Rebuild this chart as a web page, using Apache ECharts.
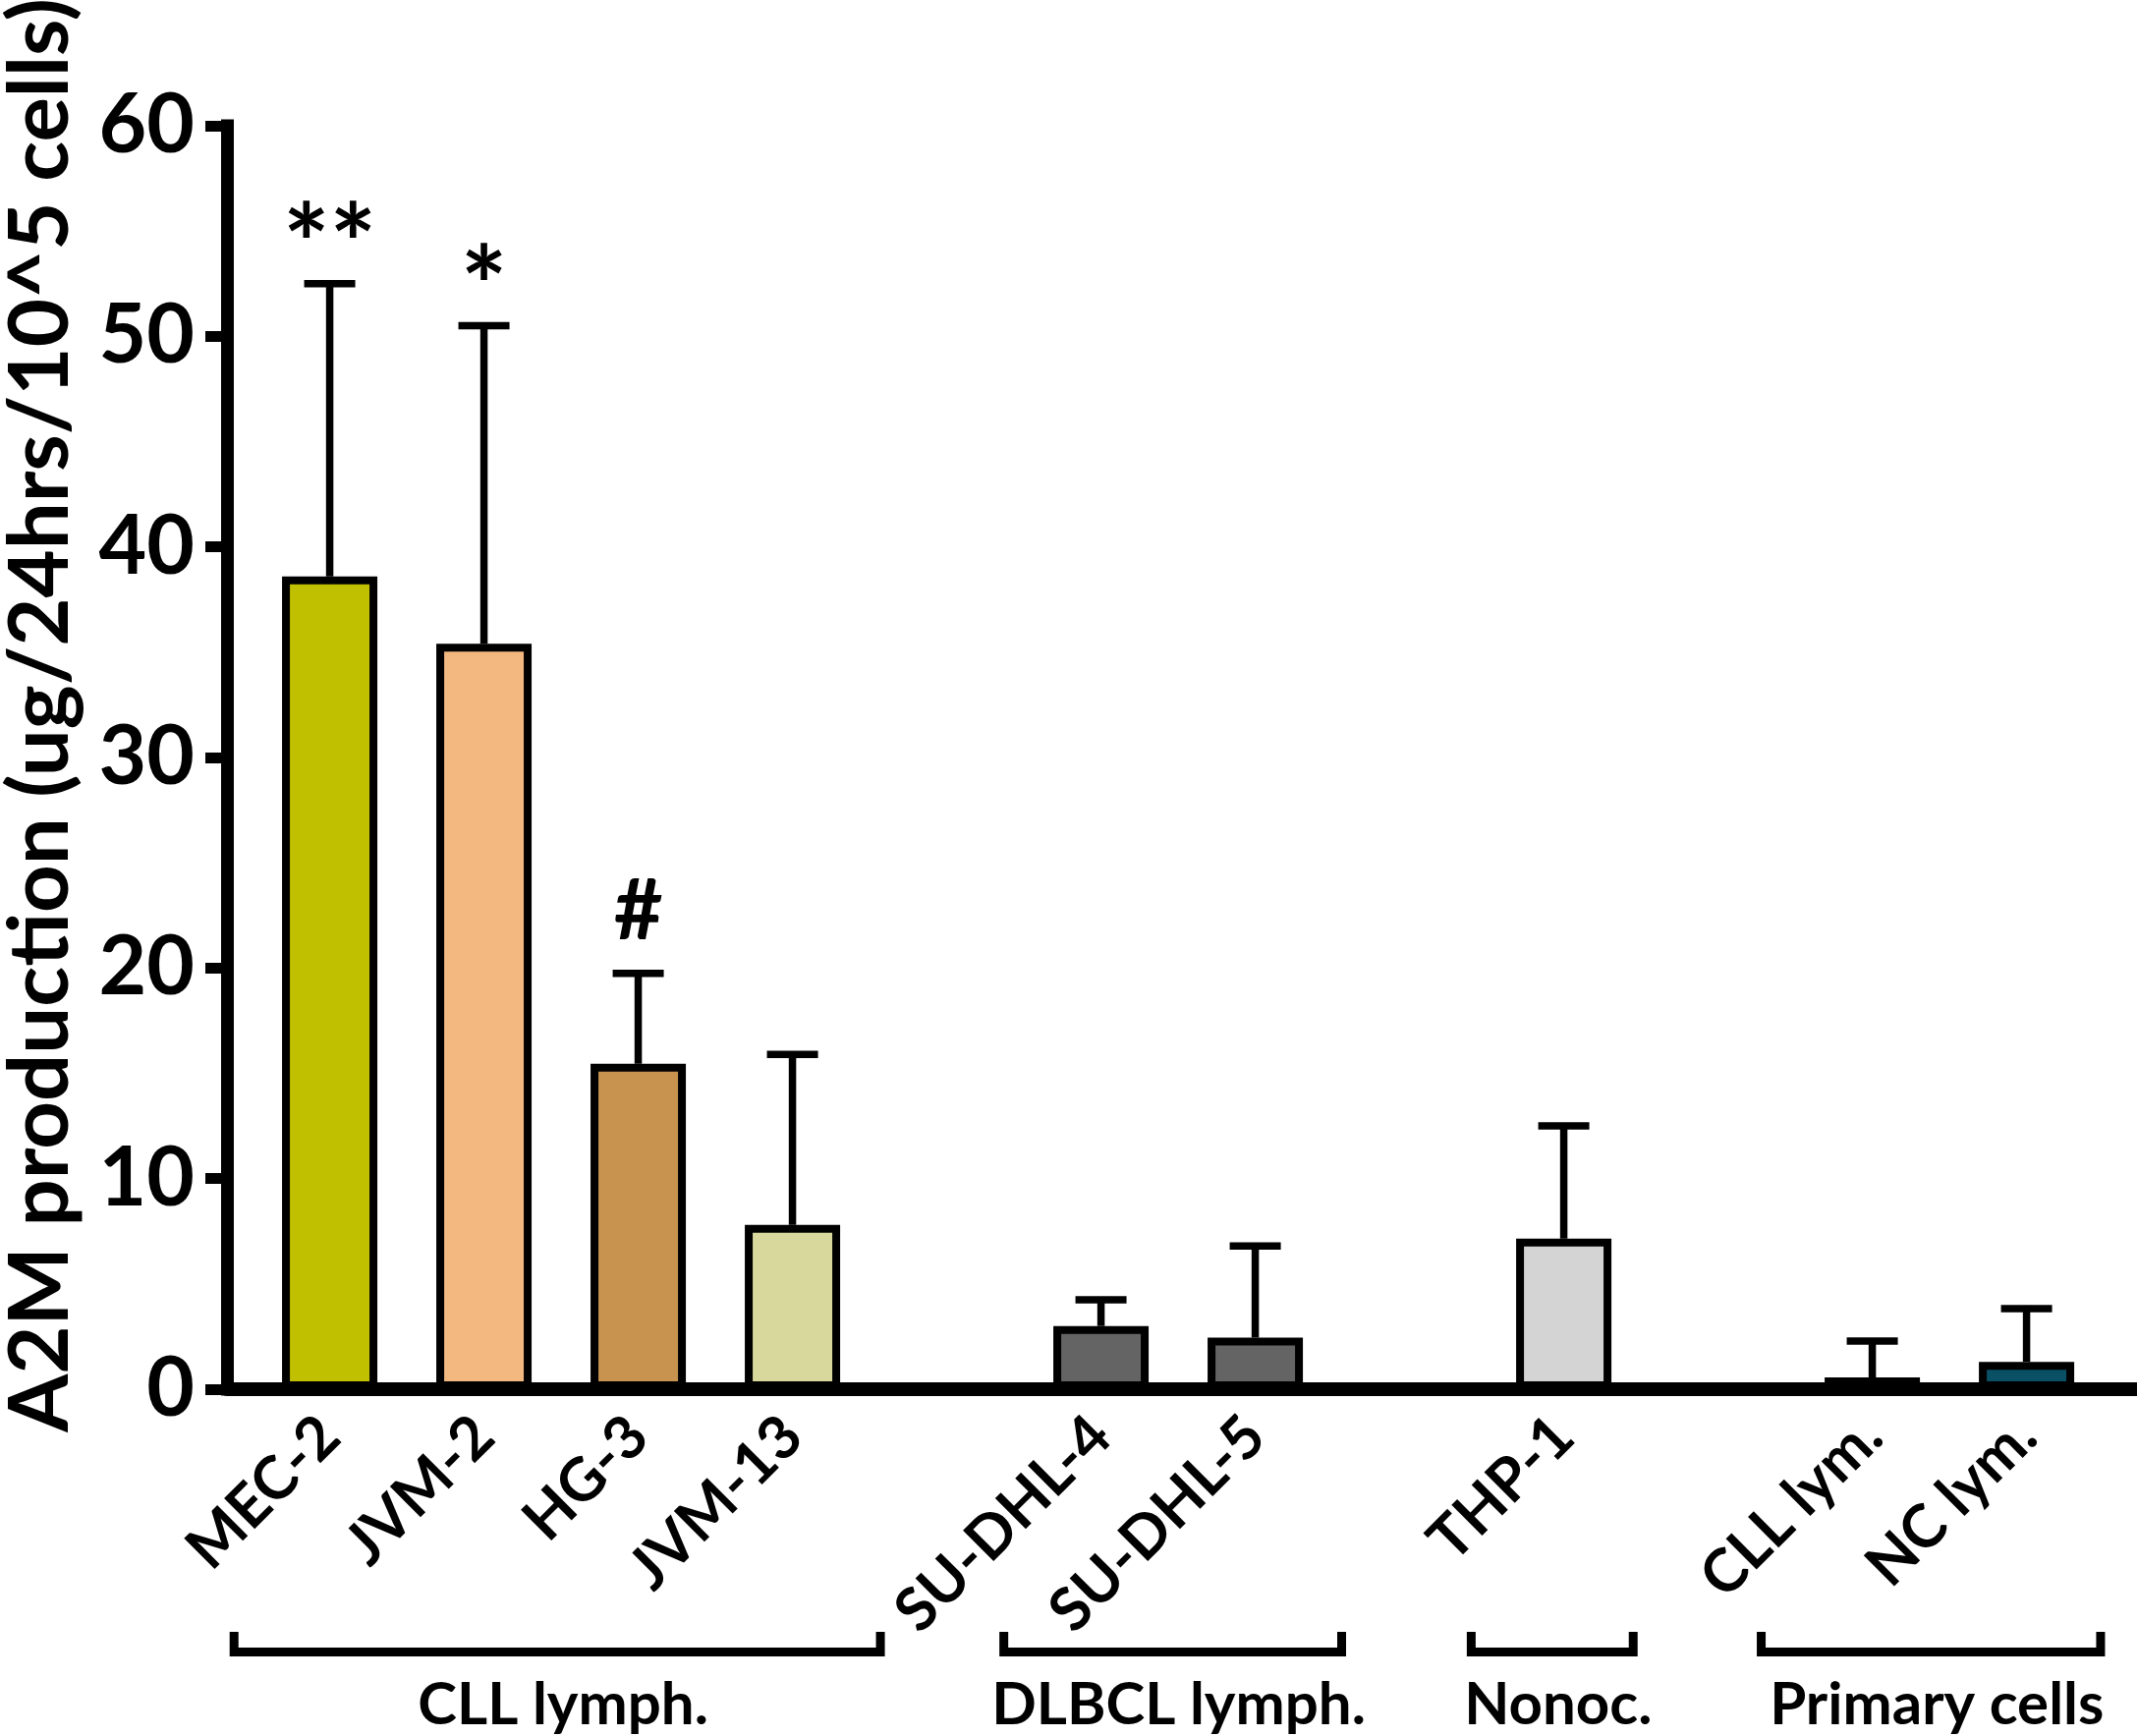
<!DOCTYPE html>
<html>
<head>
<meta charset="utf-8">
<script src="https://cdn.jsdelivr.net/npm/echarts@6/dist/echarts.min.js"></script>
<style>
  html, body { margin: 0; padding: 0; background: #fff; }
  #chart { width: 2175px; height: 1767px; }
</style>
</head>
<body>
<div id="chart"></div>
<script>
const CATEGORIES = ['MEC-2', 'JVM-2', 'HG-3', 'JVM-13', 'SU-DHL-4', 'SU-DHL-5', 'THP-1', 'CLL lym.', 'NC lym.']
// slot index of each bar on the x axis (empty slots between groups)
const SLOTS = [0, 1, 2, 3, 5, 6, 8, 10, 11]
const MEANS = [38.6, 35.4, 15.45, 7.8, 3.0, 2.45, 7.15, 0.56, 1.3]
const SD = [13.9, 15.1, 4.3, 8.1, 1.25, 4.35, 5.35, 1.73, 2.53]
const MARKS = ['**', '*', '#', '', '', '', '', '', '']
const BAR_COLORS = ['#C0C000', '#F2B880', '#C8934F', '#D8D89C', '#646464', '#646464', '#D4D4D4', '#C00000', '#0A5064']

const GROUPS = ['CLL lymph.', 'DLBCL lymph.', 'Nonoc.', 'Primary cells']
const GROUP_FROM = [-0.62, 4.37, 7.40, 9.28]
const GROUP_TO = [3.57, 6.56, 8.45, 11.48]

const Y_TICKS = [0, 10, 20, 30, 40, 50, 60]

const FONT = 'Lato'
const Y_TITLE = 'A2M production (ug/24hrs/10^5 cells)'

let chart = echarts.init(document.getElementById('chart'))

let barData = []
let errData = []
for (let i = 0; i < CATEGORIES.length; i++) {
    barData.push({
        value: [SLOTS[i], MEANS[i]],
        itemStyle: { color: BAR_COLORS[i] }
    })
    errData.push([SLOTS[i], MEANS[i], MEANS[i] + SD[i], i])
}

function renderErr(params, api) {
    let base = api.coord([api.value(0), api.value(1)])
    let tip = api.coord([api.value(0), api.value(2)])
    let mark = MARKS[api.value(3)]
    let half = 26
    let children = [
        {
            type: 'line',
            shape: { x1: base[0], y1: base[1], x2: tip[0], y2: tip[1] },
            style: { stroke: '#000', lineWidth: 7.5 }
        },
        {
            type: 'line',
            shape: { x1: tip[0] - half, y1: tip[1], x2: tip[0] + half, y2: tip[1] },
            style: { stroke: '#000', lineWidth: 7.5 }
        }
    ]
    if (mark) {
        let isHash = mark === '#'
        children.push({
            type: 'text',
            x: tip[0],
            y: tip[1] - (isHash ? 62 : 36),
            style: {
                text: mark,
                fill: '#000',
                font: 'bold ' + (isHash ? 86 : 112) + 'px ' + FONT,
                align: 'center',
                verticalAlign: 'middle'
            }
        })
    }
    return { type: 'group', children: children }
}

let option = {
    backgroundColor: '#fff',
    animation: false,
    grid: {
        left: 231,
        right: 0,
        top: 128,
        bottom: 353,
        containLabel: false,
        outerBoundsMode: 'none'
    },
    xAxis: {
        type: 'value',
        min: -0.666,
        max: 11.716,
        z: 5,
        splitLine: { show: false },
        axisLine: { onZero: false, lineStyle: { color: '#000', width: 14 } },
        axisTick: { show: false },
        axisLabel: {
            customValues: SLOTS,
            formatter: function (v) {
                return CATEGORIES[SLOTS.indexOf(v)]
            },
            rotate: 45,
            margin: 38,
            color: '#000',
            fontFamily: FONT,
            fontWeight: 'bold',
            fontSize: 61
        }
    },
    yAxis: {
        type: 'value',
        min: 0,
        max: 60,
        interval: 10,
        z: 5,
        splitLine: { show: false },
        axisLine: { onZero: false, lineStyle: { color: '#000', width: 13, cap: 'square' } },
        axisTick: { length: 22, lineStyle: { color: '#000', width: 11 } },
        axisLabel: {
            margin: 33,
            color: '#000',
            fontFamily: FONT,
            fontWeight: 'bold',
            fontSize: 84,
            customValues: Y_TICKS
        }
    },
    series: [
        {
            type: 'bar',
            data: barData,
            barWidth: 97,
            z: 2,
            itemStyle: { borderColor: '#000', borderWidth: 8 }
        },
        {
            type: 'custom',
            data: errData,
            z: 3,
            renderItem: renderErr
        }
    ]
}

chart.setOption(option)

// group brackets and labels under the axis, placed with the x scale
let graphics = []
for (let g = 0; g < GROUPS.length; g++) {
    let x1 = chart.convertToPixel({ gridIndex: 0 }, [GROUP_FROM[g], 0])[0]
    let x2 = chart.convertToPixel({ gridIndex: 0 }, [GROUP_TO[g], 0])[0]
    graphics.push({
        type: 'polyline',
        shape: { points: [[x1, 1661], [x1, 1681.5], [x2, 1681.5], [x2, 1661]] },
        style: { stroke: '#000', lineWidth: 9, fill: null, lineJoin: 'miter' }
    })
    graphics.push({
        type: 'text',
        x: (x1 + x2) / 2 + 6,
        y: 1736,
        style: {
            text: GROUPS[g],
            fill: '#000',
            font: 'bold 60px ' + FONT,
            align: 'center',
            verticalAlign: 'middle'
        }
    })
}
graphics.push({
    type: 'text',
    x: 42,
    y: 728,
    rotation: Math.PI / 2,
    style: {
        text: Y_TITLE,
        fill: '#000',
        font: 'bold 85px ' + FONT,
        align: 'center',
        verticalAlign: 'middle'
    }
})

chart.setOption({ graphic: graphics })
</script>
</body>
</html>
